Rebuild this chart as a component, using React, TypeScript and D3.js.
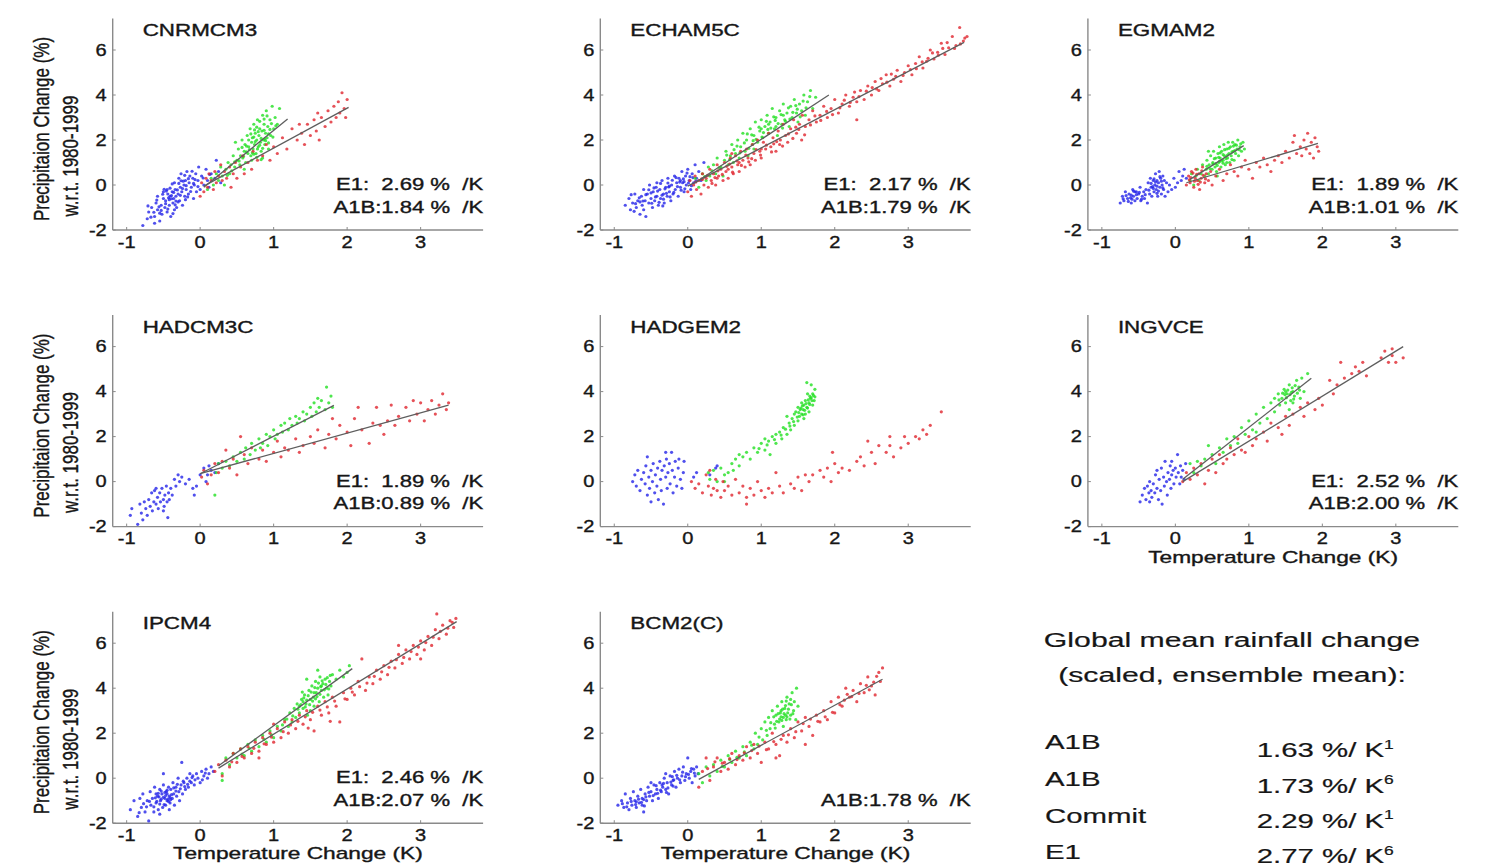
import React from 'react';
import * as d3 from 'd3';

// ---------- tick values ----------
const xTicks = [-1, 0, 1, 2, 3];
const yTicks = [-2, 0, 2, 4, 6];
const xDomain = [-1.19, 3.85];
const yDomain = [-2, 7.4];

// ---------- panel labels ----------
const modelNames = ['CNRMCM3', 'ECHAM5C', 'EGMAM2', 'HADCM3C', 'HADGEM2', 'INGVCE', 'IPCM4', 'BCM2(C)'];
const e1Rates = ['2.69', '2.17', '1.89', '1.89', null, '2.52', '2.46', null];
const a1bRates = ['1.84', '1.79', '1.01', '0.89', null, '2.00', '2.07', '1.78'];

// ---------- summary block ----------
const summaryScenarios = ['A1B', 'A1B', 'Commit', 'E1'];
const summaryRates = ['1.63', '1.73', '2.29', '2.77'];
const summaryRefs = ['1', '6', '1', '6'];

// ---------- scatter data (flat x,y pairs) ----------
const cnrmBlue = [-0.78,-1.8,-0.72,-1.5,-0.7,-1.2,-0.66,-1.0,-0.62,-1.4,-0.6,-0.8,-0.58,-1.1,-0.55,-1.6,-0.53,-0.9,-0.52,-1.3,-0.5,-0.6,-0.48,-1.0,-0.47,-0.7,-0.45,-1.2,-0.44,-0.4,-0.42,-0.9,-0.41,-0.5,-0.4,-1.4,-0.38,-0.3,-0.37,-0.8,-0.36,-0.6,-0.35,0.1,-0.34,-0.2,-0.33,-0.5,-0.32,-1.0,-0.3,-0.4,-0.29,0.3,-0.28,-0.7,-0.27,-0.1,-0.26,0.5,-0.25,-0.3,-0.24,-0.9,-0.22,0.0,-0.21,-0.5,-0.2,0.2,-0.19,-0.2,-0.18,0.6,-0.16,-0.4,-0.15,0.1,-0.14,0.4,-0.12,-0.1,-0.1,0.3,-0.09,-0.6,-0.08,0.0,-0.06,0.5,-0.05,-0.3,-0.03,0.2,-0.02,0.8,0.0,-0.2,0.02,0.4,0.05,0.0,0.08,0.7,0.1,0.2,0.12,-0.1,0.15,0.5,0.2,0.3,0.22,1.1,0.25,0.6,0.28,0.1,-0.62,-1.7,-0.45,-0.2,-0.35,-1.1,-0.58,-0.5,-0.5,-0.3,-0.42,-0.65,-0.3,-0.75,-0.2,-0.65,-0.38,0.05,-0.55,-1.25];
const cnrmBlueB = [-0.47,-0.83,-0.39,-0.61,-0.31,-0.22,-0.56,-0.97,-0.44,-1.07,-0.27,-0.46,-0.19,-0.03,-0.36,-0.33,-0.51,-0.41,-0.63,-1.21,-0.41,-0.14,-0.23,0.17,-0.33,-0.71,-0.13,-0.29,-0.07,0.24,-0.29,0.07,-0.49,-0.19,-0.59,-0.67,-0.37,-1.27,-0.17,-0.53,-0.11,0.61,-0.03,-0.07,-0.21,0.43,-0.43,-0.57,-0.67,-1.43,-0.53,-1.13,-0.34,-0.88,-0.24,-0.16,-0.09,0.07,0.04,0.31,0.13,0.47,-0.46,-0.27,-0.71,-0.93,-0.26,0.19,-0.16,0.28,-0.39,-0.47];
const cnrmGreen = [0.1,-0.2,0.15,0.3,0.18,0.0,0.22,0.5,0.25,0.2,0.28,0.8,0.3,0.4,0.33,0.0,0.35,0.7,0.38,1.0,0.4,0.5,0.42,0.9,0.45,1.3,0.47,0.8,0.5,1.1,0.52,1.6,0.54,0.9,0.55,1.3,0.57,2.0,0.58,1.2,0.6,1.5,0.61,1.8,0.62,1.0,0.64,2.2,0.65,1.4,0.66,1.7,0.68,2.5,0.69,1.3,0.7,1.9,0.71,2.1,0.72,1.6,0.73,2.7,0.74,1.8,0.75,2.3,0.76,1.4,0.77,2.0,0.78,2.9,0.79,1.7,0.8,2.2,0.81,2.5,0.82,1.9,0.83,1.5,0.84,2.4,0.85,3.1,0.86,2.0,0.87,2.7,0.88,1.8,0.89,2.3,0.9,3.3,0.91,2.1,0.92,2.6,0.93,1.6,0.95,2.9,0.96,2.2,0.98,3.5,1.0,2.5,1.02,3.0,1.05,2.7,1.08,3.4,0.6,0.7,0.48,1.9,0.85,1.2,0.7,1.1,0.78,1.6,0.88,2.05,0.74,2.45,0.66,2.0];
const cnrmGreenB = [0.67,1.57,0.73,2.13,0.81,1.77,0.87,2.43,0.77,2.57,0.93,2.27,0.71,1.43,0.63,1.73,0.83,2.07,0.89,1.97,0.79,2.37,0.97,2.73,0.69,2.27,0.59,1.27,0.53,1.07,0.91,3.07,0.75,1.93,0.85,1.63,0.95,2.47,0.73,1.37,0.99,2.13,1.03,2.63,0.87,2.93,0.63,1.47,0.57,1.67,0.81,2.83,0.77,1.23,0.93,1.87,0.43,0.63,0.37,0.43,0.47,1.03,0.83,1.13];
const cnrmRed = [0.0,-0.5,0.02,0.1,0.05,-0.3,0.08,0.3,0.1,-0.1,0.12,0.5,0.15,0.2,0.18,-0.2,0.2,0.6,0.22,0.1,0.25,0.4,0.28,0.9,0.3,0.2,0.33,0.6,0.36,0.3,0.4,0.8,0.42,-0.1,0.45,0.5,0.48,1.0,0.5,0.3,0.55,0.8,0.58,1.3,0.6,0.5,0.65,1.0,0.7,0.7,0.72,1.5,0.78,1.1,0.85,1.3,0.9,1.8,0.95,1.1,1.0,1.7,1.05,1.4,1.12,2.1,1.18,1.6,1.25,2.5,1.32,2.0,1.38,2.3,1.42,1.8,1.46,2.7,1.5,2.2,1.55,2.9,1.58,2.4,1.62,2.0,1.65,3.0,1.7,2.6,1.74,3.3,1.78,2.8,1.82,3.5,1.85,3.0,1.88,3.7,1.9,3.2,1.93,4.1,1.96,3.4,1.98,3.0,2.0,3.8,1.6,3.2,1.35,2.7];

const echamBlue = [-0.85,-0.9,-0.8,-0.6,-0.78,-1.1,-0.75,-0.8,-0.72,-0.4,-0.7,-1.0,-0.68,-0.7,-0.65,-1.3,-0.63,-0.5,-0.62,-0.9,-0.6,-0.2,-0.58,-0.7,-0.57,-1.4,-0.55,-0.4,-0.53,-0.8,-0.52,0.0,-0.5,-0.6,-0.48,-1.0,-0.47,-0.3,-0.45,-0.7,-0.43,-0.1,-0.42,-0.5,-0.4,-0.9,-0.38,-0.2,-0.37,-0.6,-0.35,0.2,-0.33,-0.4,-0.32,-0.8,-0.3,-0.1,-0.28,-0.5,-0.27,0.3,-0.25,-0.3,-0.23,-0.7,-0.22,0.0,-0.2,-0.4,-0.18,0.4,-0.17,-0.2,-0.15,0.1,-0.13,-0.5,-0.12,0.3,-0.1,-0.1,-0.08,0.6,-0.07,0.1,-0.05,-0.3,-0.03,0.4,-0.02,0.0,0.0,0.7,0.02,0.2,0.04,-0.2,0.06,0.5,0.08,0.1,0.1,0.9,0.12,0.3,0.15,0.6,0.18,0.2,0.22,1.0,-0.6,-1.1,-0.42,0.1,-0.5,-0.35,-0.35,-0.45,-0.25,-0.05,-0.1,0.2,-0.05,0.15,-0.65,-0.75];
const echamBlueB = [-0.57,-0.43,-0.49,-0.81,-0.41,-0.27,-0.33,-0.63,-0.26,-0.09,-0.19,-0.33,-0.11,0.13,-0.04,-0.17,0.03,0.37,-0.66,-0.57,-0.71,-0.83,-0.44,-0.53,-0.37,0.07,-0.29,-0.37,-0.21,0.21,-0.14,-0.07,-0.06,0.27,0.01,0.09,0.07,0.33,-0.53,-0.21,-0.61,-0.71,-0.39,-0.77,-0.31,-0.17,-0.24,-0.53,-0.16,0.33,-0.09,-0.23,-0.01,0.53,0.05,-0.03,0.11,0.17,-0.77,-0.43,-0.46,-0.13,-0.34,-0.93,-0.27,0.09,-0.73,-1.17];
const echamGreen = [0.1,0.3,0.15,-0.1,0.2,0.5,0.25,0.2,0.28,0.8,0.3,0.4,0.35,0.9,0.38,0.5,0.4,1.2,0.45,0.8,0.48,0.4,0.5,1.1,0.52,1.5,0.55,0.9,0.58,1.3,0.6,1.8,0.62,1.0,0.65,1.4,0.68,2.0,0.7,1.2,0.72,1.7,0.75,2.3,0.78,1.5,0.8,2.0,0.82,1.3,0.85,2.5,0.88,1.8,0.9,2.2,0.92,2.8,0.95,1.9,0.98,2.4,1.0,2.9,1.02,2.1,1.05,2.6,1.08,3.1,1.1,2.3,1.12,2.8,1.15,3.4,1.18,2.5,1.2,3.0,1.22,2.2,1.25,3.3,1.28,2.7,1.3,3.6,1.32,2.9,1.35,3.2,1.38,2.6,1.4,3.5,1.42,3.0,1.45,3.8,1.48,3.2,1.5,2.8,1.52,3.6,1.55,3.3,1.58,4.0,1.6,3.1,1.63,3.7,1.67,4.2,1.7,3.4,1.74,3.9,1.0,2.5,1.1,2.7,1.2,2.6,0.9,1.6,1.3,3.1];
const echamGreenB = [0.43,0.77,0.57,1.13,0.63,1.57,0.71,1.43,0.77,1.87,0.83,1.63,0.87,2.23,0.93,2.03,0.97,2.57,1.03,2.33,1.07,2.83,1.13,2.53,1.17,3.03,1.23,2.73,1.27,3.13,1.33,2.83,1.37,3.43,1.43,3.23,1.47,3.53,1.53,3.03,1.57,3.73,1.61,3.43,1.66,3.93,0.53,1.33,0.67,1.73,0.81,2.27,0.89,1.97,1.01,2.13,1.09,2.47,1.19,2.87,1.29,2.53,1.39,2.93,1.49,3.37,0.33,0.63,0.23,0.37];
const echamRed = [0.0,-0.3,0.03,0.2,0.05,-0.5,0.08,0.0,0.1,0.4,0.12,-0.2,0.15,0.2,0.18,-0.4,0.2,0.5,0.22,0.0,0.25,0.3,0.28,-0.1,0.3,0.7,0.32,0.2,0.35,0.5,0.38,0.0,0.4,0.9,0.42,0.4,0.45,0.7,0.48,0.2,0.5,1.0,0.52,0.6,0.55,0.3,0.58,1.2,0.6,0.8,0.62,0.5,0.65,1.3,0.68,0.9,0.7,0.6,0.72,1.5,0.75,1.1,0.78,0.8,0.8,1.6,0.82,1.2,0.85,0.9,0.88,1.8,0.9,1.4,0.92,1.1,0.95,2.0,0.98,1.5,1.0,1.2,1.03,1.9,1.06,1.6,1.1,2.3,1.13,1.7,1.16,2.1,1.2,1.5,1.23,2.4,1.26,2.0,1.3,2.7,1.33,2.2,1.36,1.9,1.4,2.5,1.44,2.9,1.48,2.3,1.52,2.7,1.56,3.1,1.6,2.6,1.65,2.9,1.7,3.3,1.75,2.8,1.8,3.1,1.85,3.5,1.9,3.0,1.95,3.4,2.0,3.8,2.05,3.2,2.1,3.6,2.15,4.0,2.2,3.5,2.25,3.9,2.3,3.7,2.35,4.2,2.4,3.8,2.45,4.4,2.5,4.0,2.55,4.6,2.6,4.2,2.65,4.5,2.7,4.9,2.75,4.4,2.8,4.7,2.85,5.1,2.9,4.6,2.95,5.0,3.0,5.3,3.05,4.9,3.1,5.4,3.15,5.7,3.2,5.2,3.25,5.5,3.3,6.0,3.35,5.6,3.4,5.9,3.45,6.3,3.5,5.8,3.55,6.1,3.6,6.6,3.65,6.2,3.7,7.0,3.75,6.4,3.8,6.6,2.3,2.9,1.55,2.0,0.6,1.4,0.4,0.3,0.7,1.0,1.0,1.6,1.25,1.8,0.2,0.25,0.55,0.7];
const echamRedB = [0.11,0.13,0.19,0.27,0.27,0.43,0.33,0.07,0.41,0.63,0.47,0.47,0.53,0.83,0.61,0.57,0.67,1.07,0.73,0.87,0.79,1.33,0.87,1.17,0.93,1.57,0.99,1.33,1.07,1.77,1.14,1.47,1.21,1.93,1.29,1.73,1.37,2.27,1.43,2.07,1.51,2.47,1.59,2.23,1.67,2.67,1.73,3.07,1.81,2.87,1.89,3.27,1.97,3.13,2.07,3.43,2.13,3.77,2.21,3.67,2.27,4.13,2.33,3.93,2.43,4.17,2.51,4.33,2.57,4.27,2.63,4.73,2.71,4.57,2.77,4.93,2.83,4.83,2.93,4.87,3.03,5.13,3.11,5.17,3.19,5.47,3.27,5.63,3.33,5.87,3.41,5.77,3.47,6.07,3.53,6.33,3.63,6.07,3.71,6.27,3.77,6.53,0.37,0.33,0.57,0.93,0.83,1.03,1.17,1.83,1.47,2.57];

const egmamBlue = [-0.75,-0.8,-0.72,-0.5,-0.7,-0.7,-0.68,-0.3,-0.65,-0.6,-0.63,-0.4,-0.6,-0.8,-0.58,-0.2,-0.57,-0.5,-0.55,-0.7,-0.53,-0.3,-0.52,-0.6,-0.5,-0.4,-0.48,-0.1,-0.47,-0.7,-0.45,-0.5,-0.43,-0.3,-0.42,-0.6,-0.4,-0.2,-0.38,-0.8,-0.37,0.1,-0.35,-0.4,-0.34,0.3,-0.33,-0.1,-0.32,-0.5,-0.3,0.2,-0.29,-0.3,-0.28,0.0,-0.27,0.5,-0.26,-0.2,-0.25,0.2,-0.24,-0.5,-0.23,0.1,-0.22,0.6,-0.21,-0.1,-0.2,0.3,-0.19,-0.4,-0.18,0.0,-0.17,0.4,-0.16,-0.2,-0.15,0.2,-0.14,-0.5,-0.12,0.1,-0.1,-0.3,-0.08,0.0,-0.05,-0.2,-0.02,0.3,0.0,-0.1,0.03,0.1,0.05,0.6,0.08,0.2,0.1,0.4,0.12,0.7,0.15,0.3,-0.6,-0.45,-0.55,-0.3,-0.3,-0.15,-0.25,-0.05];
const egmamBlueB = [-0.61,-0.57,-0.53,-0.43,-0.46,-0.63,-0.67,-0.47,-0.57,-0.27,-0.49,-0.33,-0.31,-0.07,-0.27,0.13,-0.23,-0.27,-0.19,0.17,-0.21,0.37,-0.29,0.27,-0.33,0.07,-0.17,-0.13,-0.25,-0.37,-0.36,-0.23,-0.41,-0.43,-0.64,-0.73,-0.71,-0.61,-0.59,-0.63];
const egmamGreen = [0.2,0.2,0.22,0.5,0.25,0.0,0.28,0.4,0.3,0.7,0.32,0.2,0.35,0.5,0.37,0.9,0.4,0.4,0.42,0.7,0.43,1.1,0.45,0.5,0.46,0.9,0.48,1.3,0.5,0.7,0.51,1.0,0.52,1.5,0.54,0.8,0.55,1.2,0.56,0.6,0.58,1.4,0.59,1.0,0.6,1.7,0.61,1.2,0.62,0.8,0.63,1.5,0.65,1.1,0.66,1.8,0.67,1.3,0.68,0.9,0.7,1.6,0.71,1.2,0.72,1.9,0.73,1.4,0.74,1.0,0.75,1.7,0.76,1.3,0.78,1.9,0.79,1.5,0.8,1.1,0.81,1.8,0.82,1.4,0.84,1.6,0.85,2.0,0.86,1.3,0.88,1.7,0.9,1.5,0.92,1.9,0.94,1.6,0.57,0.4,0.45,1.5,0.6,1.05,0.65,1.35,0.7,1.0,0.55,0.95];
const egmamGreenB = [0.47,0.73,0.53,1.17,0.57,0.87,0.61,1.43,0.63,1.07,0.67,1.57,0.69,1.17,0.73,1.63,0.77,1.47,0.81,1.53,0.83,1.77,0.87,1.57,0.59,1.23,0.51,0.93,0.43,0.83,0.71,1.33,0.77,1.13,0.65,0.97,0.79,1.73,0.89,1.83];
const egmamRed = [0.15,0.0,0.18,0.4,0.2,0.1,0.22,0.6,0.25,-0.1,0.27,0.3,0.28,0.7,0.3,0.2,0.32,0.5,0.33,-0.2,0.35,0.3,0.37,0.8,0.4,0.1,0.42,0.5,0.45,0.2,0.48,0.6,0.5,0.0,0.55,0.4,0.6,0.7,0.65,0.2,0.7,0.5,0.75,0.9,0.8,0.6,0.85,0.4,0.9,0.8,0.95,1.1,1.0,0.7,1.05,0.3,1.1,1.0,1.15,0.8,1.2,1.2,1.25,0.9,1.3,0.6,1.35,1.1,1.4,1.3,1.45,1.0,1.5,1.5,1.55,1.2,1.6,1.9,1.62,2.2,1.65,1.4,1.7,1.7,1.72,1.3,1.75,2.0,1.78,1.6,1.8,2.3,1.83,1.4,1.85,1.9,1.88,1.2,1.9,2.1,1.93,1.7,1.95,1.5];
const egmamRedB = [0.21,0.33,0.26,0.17,0.29,0.47,0.34,0.13,0.38,0.43,0.24,0.53,0.31,0.03,0.41,0.27,0.19,0.23,0.36,0.63];

const hadcmBlue = [-0.95,-1.5,-0.93,-1.2,-0.85,-1.9,-0.82,-1.0,-0.8,-1.4,-0.78,-1.7,-0.76,-0.9,-0.74,-1.2,-0.72,-1.5,-0.7,-0.8,-0.68,-1.1,-0.66,-0.5,-0.65,-1.3,-0.63,-0.9,-0.62,-0.4,-0.6,-1.0,-0.58,-0.7,-0.57,-1.2,-0.55,-0.5,-0.54,-0.9,-0.52,-0.3,-0.5,-0.8,-0.49,-1.1,-0.48,-0.6,-0.46,-0.2,-0.45,-0.9,-0.44,-1.6,-0.43,-0.5,-0.42,-0.8,-0.4,-0.3,-0.38,-0.6,-0.35,0.1,-0.33,-0.2,-0.3,0.3,-0.28,0.0,-0.25,0.2,-0.2,-0.1,-0.15,0.1,-0.1,-0.3,-0.08,-0.6,-0.05,-0.2,0.0,0.3,0.05,0.6,0.08,0.0,0.1,0.3,0.12,0.7,0.15,0.5,0.2,0.4,0.25,0.8,-0.6,-0.3,-0.5,-1.3];
const hadcmGreen = [0.2,-0.6,0.22,0.4,0.25,0.8,0.3,0.6,0.35,0.9,0.4,0.7,0.45,1.1,0.5,0.9,0.55,1.3,0.6,1.0,0.62,1.5,0.68,1.2,0.7,1.7,0.75,1.4,0.8,1.9,0.82,1.5,0.85,1.7,0.9,2.1,0.92,1.6,0.95,2.0,1.0,2.3,1.02,1.9,1.05,2.1,1.1,2.5,1.12,2.2,1.15,2.6,1.2,2.3,1.22,2.8,1.25,2.5,1.3,2.9,1.32,2.6,1.35,2.8,1.4,3.1,1.42,2.7,1.45,3.0,1.5,3.3,1.52,2.9,1.55,3.5,1.58,3.1,1.6,3.7,1.62,3.3,1.65,3.6,1.7,3.2,1.72,4.2,1.75,3.5,1.78,3.8,1.8,3.3];
const hadcmRed = [0.02,0.2,0.05,0.5,0.1,-0.1,0.15,0.3,0.2,0.8,0.25,0.4,0.3,0.9,0.35,1.4,0.4,0.6,0.45,1.0,0.5,0.3,0.55,2.0,0.6,1.2,0.65,0.8,0.7,1.5,0.8,1.0,0.85,1.4,0.9,0.9,1.0,1.3,1.05,1.8,1.1,1.1,1.15,1.5,1.2,1.4,1.3,1.9,1.35,1.3,1.4,1.6,1.5,2.0,1.55,1.7,1.6,2.3,1.7,1.5,1.75,2.1,1.8,2.8,1.85,1.9,1.9,2.5,2.0,2.2,2.05,1.6,2.1,2.8,2.15,3.3,2.2,2.3,2.3,1.7,2.35,2.6,2.4,3.3,2.45,2.5,2.5,2.1,2.55,2.7,2.6,3.4,2.65,2.5,2.7,2.9,2.8,3.3,2.85,2.7,2.9,3.6,2.95,3.0,3.0,3.5,3.05,2.7,3.1,3.2,3.15,3.6,3.2,3.0,3.25,3.4,3.3,3.9,3.35,3.2,3.38,3.5];

const hadgemBlue = [-0.75,0.0,-0.72,0.3,-0.7,-0.2,-0.68,0.5,-0.65,-0.4,-0.63,0.1,-0.6,0.4,-0.58,-0.1,-0.57,0.7,-0.55,-0.6,-0.55,1.1,-0.53,0.2,-0.52,-0.3,-0.5,0.5,-0.48,0.0,-0.47,0.8,-0.45,-0.5,-0.44,0.3,-0.42,-0.2,-0.41,0.6,-0.4,-0.8,-0.38,0.9,-0.37,0.1,-0.36,-0.4,-0.35,0.5,-0.33,-1.0,-0.32,0.7,-0.3,0.2,-0.29,1.0,-0.28,-0.3,-0.27,0.4,-0.25,0.8,-0.24,-0.1,-0.22,1.3,-0.21,0.5,-0.2,-0.5,-0.18,0.2,-0.17,0.9,-0.15,-0.2,-0.13,0.6,-0.12,1.0,-0.1,0.1,-0.08,-0.3,-0.06,0.4,-0.05,0.9,-0.3,1.3,-0.5,-0.9,0.08,0.2,0.12,0.4,0.3,0.3,0.4,0.7,0.38,0.6];
const hadgemGreen = [0.28,0.4,0.3,0.1,0.35,0.5,0.4,0.0,0.45,0.6,0.5,0.3,0.5,0.0,0.6,0.8,0.65,1.0,0.7,0.7,0.75,1.1,0.8,1.3,0.85,1.0,0.9,1.5,0.95,1.3,1.0,1.7,1.05,1.4,1.1,1.8,1.12,1.2,1.15,2.0,1.2,1.7,1.25,2.2,1.28,1.9,1.3,2.4,1.35,2.1,1.38,2.6,1.4,2.3,1.42,2.8,1.45,2.5,1.47,3.1,1.5,2.7,1.5,3.3,1.52,2.9,1.55,3.0,1.55,3.5,1.57,3.2,1.58,2.8,1.6,3.6,1.6,3.0,1.62,3.3,1.63,3.9,1.65,3.5,1.65,3.1,1.67,3.7,1.68,4.3,1.7,3.4,1.7,3.9,1.72,3.6,1.73,4.1,1.62,4.4,1.45,3.0,1.35,2.9,1.2,2.1,1.05,1.9,0.7,1.2,0.62,0.5,0.55,0.4,1.58,3.4,1.66,3.8,1.53,3.2,1.69,3.6];
const hadgemGreenB = [1.51,3.07,1.54,3.27,1.56,3.37,1.59,3.17,1.61,3.47,1.64,3.63,1.66,3.43,1.68,3.73,1.71,3.83,1.73,3.77,1.63,3.27,1.57,2.97,1.49,2.87,1.44,2.67,1.39,2.47,1.33,2.33,1.27,2.07,1.18,1.87,1.08,1.63,0.97,1.47];
const hadgemRed = [0.05,0.0,0.1,-0.3,0.15,-0.1,0.2,-0.5,0.25,0.3,0.28,-0.2,0.3,0.5,0.32,-0.6,0.35,-0.3,0.38,0.1,0.4,-0.4,0.45,-0.7,0.48,0.0,0.5,-0.4,0.55,-0.2,0.6,-0.6,0.65,0.1,0.7,-0.5,0.75,-0.2,0.8,-0.7,0.85,-0.3,0.9,-0.6,0.95,0.0,1.0,-0.4,1.05,-0.7,1.1,-0.3,1.15,-0.5,1.2,0.4,1.25,-0.2,1.3,-0.5,1.4,-0.1,1.45,-0.3,1.5,0.2,1.55,-0.4,1.6,0.3,1.65,0.0,1.7,0.3,1.8,0.5,1.85,0.2,1.9,0.6,1.95,0.0,2.0,0.8,2.05,0.4,2.1,0.6,2.2,0.5,2.3,0.9,2.35,1.1,2.4,0.7,2.5,1.3,2.55,0.8,2.6,1.6,2.7,1.3,2.75,1.6,2.8,1.1,2.9,1.5,2.95,2.0,3.0,1.7,3.1,2.0,3.15,1.9,3.2,2.3,3.25,2.1,3.3,2.5,3.45,3.1,1.97,1.3,2.45,1.8,2.75,2.0,0.8,-1.0];

const ingvBlue = [-0.48,-0.9,-0.45,-0.6,-0.42,-0.3,-0.4,-0.8,-0.38,-0.2,-0.36,-0.5,-0.35,0.0,-0.33,-0.4,-0.32,-0.7,-0.3,-0.1,-0.28,-0.5,-0.27,0.3,-0.25,-0.3,-0.23,-0.8,-0.22,0.1,-0.2,-0.4,-0.19,0.6,-0.18,-1.0,-0.16,0.2,-0.15,-0.2,-0.14,0.9,-0.12,0.0,-0.11,-0.6,-0.1,0.4,-0.08,0.1,-0.07,0.7,-0.06,-0.3,-0.05,0.3,-0.03,0.5,-0.02,-0.1,0.0,0.6,0.01,0.2,0.03,1.2,0.04,0.4,0.06,-0.1,0.07,0.7,0.08,0.2,0.1,0.5,0.12,0.1,0.14,0.8,-0.25,0.5,-0.35,-0.9,-0.05,0.9];
const ingvGreen = [0.2,0.8,0.25,0.4,0.3,0.9,0.35,0.7,0.4,1.0,0.45,1.6,0.5,1.2,0.55,0.8,0.6,1.5,0.65,1.3,0.7,1.9,0.75,1.6,0.8,2.0,0.85,1.7,0.9,2.4,0.95,2.1,1.0,2.7,1.05,2.3,1.1,3.0,1.15,2.6,1.2,3.3,1.25,2.8,1.3,3.5,1.35,3.1,1.4,3.9,1.42,3.4,1.45,3.7,1.48,4.1,1.5,3.5,1.52,3.9,1.55,4.3,1.57,3.6,1.6,4.0,1.62,3.8,1.65,4.5,1.68,4.2,1.7,3.7,1.72,4.6,1.75,4.0,1.8,4.8,1.55,3.2,1.35,3.7,1.1,2.2,1.5,4.0,1.6,3.5];
const ingvGreenB = [1.41,3.63,1.46,3.93,1.51,3.73,1.53,4.07,1.56,3.87,1.59,4.17,1.61,3.67,1.63,4.27,1.66,3.93,1.69,4.07,1.49,3.87,1.58,3.97];
const ingvRed = [0.1,0.0,0.15,0.4,0.2,0.1,0.25,0.6,0.3,0.3,0.35,0.8,0.4,-0.1,0.45,0.5,0.5,1.0,0.55,0.4,0.6,1.2,0.65,0.8,0.7,1.0,0.75,1.5,0.8,1.2,0.85,1.9,0.9,1.4,0.95,1.3,1.0,2.0,1.05,1.6,1.1,1.9,1.2,2.2,1.25,1.8,1.3,2.6,1.4,2.4,1.45,2.1,1.5,2.9,1.55,2.5,1.6,3.0,1.7,3.3,1.75,2.9,1.8,3.5,1.9,3.2,1.95,3.7,2.0,3.4,2.1,4.5,2.15,3.9,2.2,4.3,2.25,5.3,2.3,4.6,2.4,4.8,2.45,5.1,2.5,4.9,2.55,5.3,2.6,4.7,2.8,5.5,2.85,5.8,2.9,5.3,2.95,5.6,3.0,5.3,3.1,5.5,2.95,5.9];

const ipcmBlue = [-0.95,-1.4,-0.9,-1.0,-0.85,-1.7,-0.82,-0.9,-0.8,-1.3,-0.78,-0.7,-0.75,-1.5,-0.72,-1.0,-0.7,-1.9,-0.68,-0.6,-0.67,-1.2,-0.65,-0.9,-0.63,-1.5,-0.62,-0.4,-0.6,-1.1,-0.58,-0.8,-0.57,-1.4,-0.55,-0.5,-0.54,-1.0,-0.52,-0.7,-0.51,-1.3,-0.5,-0.3,-0.48,-0.9,-0.47,-1.2,-0.46,-0.6,-0.45,-1.0,-0.43,-0.4,-0.42,-0.8,-0.41,-1.1,-0.4,-0.5,-0.38,-0.9,-0.37,-0.2,-0.36,-0.7,-0.35,-1.2,-0.33,-0.4,-0.32,-0.8,-0.3,0.0,-0.29,-0.6,-0.28,-1.0,-0.26,-0.3,-0.25,0.7,-0.24,-0.7,-0.22,-0.2,-0.2,-0.5,-0.18,0.0,-0.16,-0.4,-0.14,0.2,-0.12,-0.2,-0.1,0.1,-0.08,-0.3,-0.05,0.2,-0.03,0.0,0.0,-0.2,0.02,0.3,0.05,0.1,0.08,0.4,0.1,0.0,0.12,0.2,0.15,0.5,0.18,0.3,-0.55,-1.6,-0.42,-1.4,-0.5,0.2,-0.6,-0.7,-0.5,-0.85,-0.45,-0.7,-0.55,-1.15,-0.4,-0.95];
const ipcmBlueB = [-0.53,-0.93,-0.47,-0.77,-0.43,-1.03,-0.57,-0.67,-0.61,-0.87,-0.49,-1.17,-0.39,-0.73,-0.33,-0.57,-0.63,-1.27,-0.69,-1.03,-0.73,-1.27,-0.45,-0.53,-0.41,-0.87,-0.36,-0.43,-0.27,-0.47,-0.21,-0.37,-0.14,-0.13,-0.07,-0.07,-0.53,-0.57,-0.59,-1.03,-0.44,-0.93,-0.48,-0.63,-0.56,-0.83,-0.77,-1.13,-0.83,-1.53,-0.31,-0.27,-0.23,-0.13,-0.17,-0.27,-0.11,0.03,0.03,-0.07,0.07,0.23];
const ipcmGreen = [0.3,0.2,0.35,0.9,0.4,0.6,0.45,1.1,0.5,0.9,0.55,1.3,0.6,1.0,0.65,1.5,0.7,1.2,0.75,1.7,0.8,1.4,0.85,1.9,0.9,1.6,0.95,2.1,1.0,1.8,1.05,2.3,1.1,2.1,1.15,2.6,1.2,2.3,1.22,2.9,1.25,2.5,1.28,3.1,1.3,2.7,1.32,3.3,1.35,2.9,1.38,3.5,1.4,3.1,1.42,3.7,1.44,3.3,1.46,2.8,1.48,3.9,1.5,3.5,1.52,4.1,1.54,3.6,1.55,3.2,1.57,4.3,1.58,3.8,1.6,4.0,1.62,3.4,1.63,4.5,1.65,3.9,1.67,4.2,1.68,3.6,1.7,4.4,1.72,4.0,1.74,3.7,1.76,4.3,1.78,4.1,1.8,4.6,1.85,4.4,1.9,4.8,1.95,4.5,2.0,4.7,2.03,5.0,1.45,4.4,1.6,4.8,0.3,-0.1,1.5,3.0,1.4,3.4,1.55,3.8,1.65,4.1,1.35,3.2];
const ipcmGreenB = [1.33,3.07,1.37,3.27,1.41,3.57,1.43,3.17,1.47,3.67,1.49,3.27,1.51,3.83,1.53,3.43,1.56,4.03,1.59,3.63,1.61,4.23,1.63,3.73,1.66,4.33,1.69,3.93,1.71,4.17,1.73,4.47,1.75,3.97,1.77,4.57,1.39,3.83,1.45,3.47,1.57,3.53,1.64,4.07,1.26,2.77,1.18,2.63,1.12,2.37,0.97,1.93,0.87,1.73,0.67,1.33,0.57,1.07];
const ipcmRed = [0.2,0.3,0.25,0.6,0.3,0.1,0.35,0.8,0.4,0.5,0.45,1.1,0.5,0.7,0.55,1.3,0.6,0.9,0.65,1.4,0.7,1.1,0.75,1.6,0.8,1.2,0.85,1.8,0.9,1.5,0.95,2.0,1.0,1.6,1.05,2.2,1.1,1.8,1.15,2.5,1.2,2.0,1.25,2.6,1.3,2.2,1.35,2.8,1.4,2.4,1.45,3.0,1.5,2.6,1.55,2.1,1.6,3.2,1.65,2.8,1.7,3.4,1.75,2.9,1.8,3.6,1.85,3.2,1.9,2.5,1.95,3.8,2.0,3.5,2.05,4.0,2.1,3.7,2.15,4.3,2.2,5.3,2.25,3.9,2.3,4.5,2.35,4.2,2.4,4.8,2.45,4.4,2.5,5.0,2.55,4.6,2.6,5.2,2.65,4.9,2.7,5.5,2.75,5.1,2.8,5.7,2.85,5.3,2.9,5.9,2.95,5.5,3.0,6.1,3.05,5.7,3.1,6.3,3.15,5.9,3.2,6.6,3.22,7.3,3.25,6.2,3.3,6.8,3.35,6.4,3.4,7.0,3.45,6.7,3.48,7.1,3.0,5.3,2.7,5.9,1.0,2.4,0.8,0.9];
const ipcmRedB = [0.43,0.73,0.57,0.97,0.73,1.33,0.87,1.53,0.97,1.83,1.13,2.07,1.23,2.37,1.33,2.53,1.43,2.73,1.53,2.93,1.63,3.03,1.73,3.17,1.83,3.43,1.97,3.53,2.07,3.83,2.17,4.07,2.27,4.23,2.37,4.53,2.47,4.73,2.57,4.93,2.67,5.27,2.77,5.37,2.87,5.63,2.97,5.83,3.07,6.03,3.17,6.27,3.27,6.53,3.37,6.67,3.43,6.93,1.47,2.23,1.77,2.53];

const bcmBlue = [-0.95,-1.2,-0.9,-1.0,-0.87,-1.3,-0.85,-0.7,-0.82,-1.1,-0.8,-1.4,-0.78,-0.9,-0.76,-1.2,-0.74,-0.6,-0.72,-1.0,-0.7,-1.3,-0.68,-0.8,-0.66,-1.1,-0.64,-0.5,-0.62,-0.9,-0.6,-1.5,-0.58,-0.7,-0.56,-1.0,-0.54,-0.4,-0.52,-0.8,-0.5,-0.6,-0.48,-1.0,-0.46,-0.3,-0.44,-0.7,-0.42,-0.5,-0.4,-0.9,-0.38,-0.2,-0.36,-0.6,-0.34,-0.4,-0.32,0.0,-0.3,-0.5,-0.28,-0.2,-0.26,-0.7,-0.24,0.1,-0.22,-0.3,-0.2,-0.1,-0.18,0.3,-0.16,-0.4,-0.14,0.0,-0.12,0.4,-0.1,-0.2,-0.08,0.1,-0.06,0.5,-0.04,-0.1,-0.02,0.2,0.0,0.9,0.02,0.0,0.04,0.3,0.06,-0.2,0.08,0.4,0.1,0.1,0.12,0.5,0.14,0.2,-0.62,-1.2,-0.3,0.2,-0.5,-0.2,-0.7,-1.05,-0.6,-0.95,-0.35,-0.3,-0.2,-0.35];
const bcmBlueB = [-0.77,-1.03,-0.71,-1.17,-0.67,-0.93,-0.63,-1.07,-0.57,-0.83,-0.53,-0.63,-0.47,-0.77,-0.43,-0.33,-0.37,-0.53,-0.33,-0.23,-0.27,-0.43,-0.23,-0.17,-0.19,-0.07,-0.15,0.13,-0.11,-0.07,-0.07,0.27,-0.03,0.07,0.01,0.17,0.05,0.43,0.09,0.23,-0.83,-1.27,-0.89,-1.13,-0.59,-1.23,-0.41,-0.67,-0.29,-0.63,-0.21,0.07];
const bcmGreen = [0.15,0.2,0.2,-0.2,0.25,0.5,0.3,0.1,0.35,0.6,0.4,0.3,0.45,0.8,0.5,0.5,0.55,1.0,0.6,0.7,0.65,1.2,0.7,0.9,0.75,1.4,0.8,1.0,0.85,1.6,0.9,1.3,0.92,2.0,0.95,1.5,1.0,2.2,1.02,1.7,1.05,2.5,1.08,1.9,1.1,2.7,1.12,2.2,1.15,3.0,1.18,2.4,1.2,2.8,1.22,3.2,1.24,2.5,1.26,2.9,1.28,3.4,1.3,2.7,1.32,3.1,1.34,2.6,1.35,3.6,1.36,2.9,1.38,3.3,1.4,2.8,1.42,3.8,1.44,3.0,1.45,3.4,1.47,2.6,1.48,4.0,1.5,3.2,1.3,2.3,1.4,3.5,1.33,2.8,1.27,3.0];
const bcmGreenB = [1.21,2.53,1.23,2.87,1.25,2.63,1.27,2.73,1.29,3.07,1.31,2.87,1.33,3.23,1.35,2.73,1.37,3.07,1.39,2.63,1.41,3.27,1.43,2.87,1.19,2.23,1.17,2.73,1.13,2.47,1.07,2.13,0.97,1.83,0.87,1.47,0.77,1.17,0.67,0.93,0.57,0.83,0.47,0.53,1.34,3.43,1.28,2.57];
const bcmRed = [0.2,0.3,0.25,0.9,0.3,-0.1,0.35,0.5,0.4,0.9,0.45,0.3,0.5,0.7,0.55,0.4,0.6,1.1,0.65,0.6,0.7,1.0,0.75,0.8,0.8,1.4,0.85,0.9,0.9,1.5,0.95,1.1,1.0,0.7,1.05,1.6,1.1,1.3,1.15,2.0,1.2,1.5,1.25,1.0,1.3,1.9,1.35,1.6,1.4,2.2,1.45,1.8,1.5,2.5,1.55,2.1,1.6,2.7,1.65,2.3,1.7,1.9,1.75,2.8,1.8,2.5,1.85,3.0,1.9,2.6,1.95,3.4,2.0,2.9,2.05,3.6,2.1,3.2,2.15,4.0,2.2,3.6,2.25,3.9,2.3,3.4,2.35,4.2,2.4,3.8,2.45,4.5,2.5,4.1,2.55,3.7,2.6,4.7,2.62,4.3,2.65,4.9,1.2,0.9,0.15,-0.4,1.6,1.5];
const bcmRedB = [0.27,0.43,0.37,0.73,0.47,0.67,0.57,0.87,0.67,0.83,0.77,1.13,0.87,1.23,0.97,1.43,1.07,1.27,1.17,1.63,1.27,1.73,1.37,1.93,1.47,2.07,1.57,2.43,1.67,2.63,1.77,2.53,1.87,2.73,1.97,2.93,2.07,3.27,2.17,3.73,2.23,3.63,2.33,3.77,2.43,4.13,2.53,4.27,2.57,4.53,2.47,3.93,2.13,3.47];

// ---------- fitted regression lines (endpoints) ----------
const cnrmFitE1 = [[0.05, -0.1], [1.19, 2.93]];
const cnrmFitA1B = [[0.05, -0.05], [2.02, 3.45]];
const echamFitE1 = [[0.1, 0.1], [1.92, 4.0]];
const echamFitA1B = [[0.0, -0.05], [3.76, 6.34]];
const egmamFitE1 = [[0.2, 0.25], [0.93, 1.75]];
const egmamFitA1B = [[0.15, 0.1], [1.94, 1.85]];
const hadcmFitE1 = [[0.0, 0.35], [1.82, 3.39]];
const hadcmFitA1B = [[0.0, 0.35], [3.38, 3.4]];
const ingvFitE1 = [[0.1, 0.1], [1.85, 4.59]];
const ingvFitA1B = [[0.1, 0.0], [3.1, 6.0]];
const ipcmFitE1 = [[0.25, 0.55], [2.07, 4.87]];
const ipcmFitA1B = [[0.25, 0.45], [3.49, 6.96]];
const bcmFitA1B = [[0.15, -0.05], [2.65, 4.4]];

// ---------- table built from the arrays ----------
const pairs = (a: number[]) => {
  const out: [number, number][] = [];
  for (let i = 0; i + 1 < a.length; i += 2) out.push([a[i], a[i + 1]]);
  return out;
};

const panels = [
  { blue: [...cnrmBlue, ...cnrmBlueB], green: [...cnrmGreen, ...cnrmGreenB], red: cnrmRed, fits: [cnrmFitE1, cnrmFitA1B] },
  { blue: [...echamBlue, ...echamBlueB], green: [...echamGreen, ...echamGreenB], red: [...echamRed, ...echamRedB], fits: [echamFitE1, echamFitA1B] },
  { blue: [...egmamBlue, ...egmamBlueB], green: [...egmamGreen, ...egmamGreenB], red: [...egmamRed, ...egmamRedB], fits: [egmamFitE1, egmamFitA1B] },
  { blue: hadcmBlue, green: hadcmGreen, red: hadcmRed, fits: [hadcmFitE1, hadcmFitA1B] },
  { blue: hadgemBlue, green: [...hadgemGreen, ...hadgemGreenB], red: hadgemRed, fits: [] },
  { blue: ingvBlue, green: [...ingvGreen, ...ingvGreenB], red: ingvRed, fits: [ingvFitE1, ingvFitA1B] },
  { blue: [...ipcmBlue, ...ipcmBlueB], green: [...ipcmGreen, ...ipcmGreenB], red: [...ipcmRed, ...ipcmRedB], fits: [ipcmFitE1, ipcmFitA1B] },
  { blue: [...bcmBlue, ...bcmBlueB], green: [...bcmGreen, ...bcmGreenB], red: [...bcmRed, ...bcmRedB], fits: [bcmFitA1B] },
].map((p, i) => ({ ...p, name: modelNames[i], e1: e1Rates[i], a1b: a1bRates[i], col: i % 3, row: Math.floor(i / 3) }));

const xLabelPanels = [5, 6, 7];

// ---------- style ----------
const FONT = '"Liberation Sans", Arial, Helvetica, sans-serif';
const AXIS = '#8a8a8a';
const BLUE = '#2424e8';
const GREEN = '#22e022';
const RED = '#e0262e';
const FIT = '#5e5e5e';
const INK = '#161616';
const SX = 1.4;

const LEFT0 = 112.7;
const COL_STEP = 487.6;
const TOP0 = 18.5;
const ROW_STEP = 296.6;
const PW = 370.4;
const PH = 211.5;

function T({ x, y, size, anchor = 'start', sx = SX, children, pre = false, heavy = 0.35 }: any) {
  return (
    <text
      transform={`translate(${x},${y}) scale(${sx},1)`}
      fontSize={size}
      textAnchor={anchor}
      fill={INK}
      stroke={INK}
      strokeWidth={heavy}
      style={pre ? { whiteSpace: 'pre' } : undefined}
    >
      {children}
    </text>
  );
}

function Panel({ p, idx }: any) {
  const left = LEFT0 + p.col * COL_STEP;
  const top = TOP0 + p.row * ROW_STEP;
  const x = d3.scaleLinear().domain(xDomain).range([left, left + PW]);
  const y = d3.scaleLinear().domain(yDomain).range([top + PH, top]);
  const bottom = top + PH;
  const right = left + PW;
  const line = d3.line<number[]>().x((d) => x(d[0])).y((d) => y(d[1]));

  const dots = (arr: number[], color: string) =>
    pairs(arr).map((d, i) => (
      <circle key={i} cx={x(d[0])} cy={y(d[1])} r={1.6} fill={color} fillOpacity={0.8} />
    ));

  return (
    <g>
      {/* axes */}
      <line x1={left} x2={right} y1={bottom} y2={bottom} stroke={AXIS} strokeWidth={1.4} />
      <line x1={left} x2={left} y1={top} y2={bottom} stroke={AXIS} strokeWidth={1.4} />
      {xTicks.map((t) => (
        <g key={'xt' + t}>
          <line x1={x(t)} x2={x(t)} y1={bottom} y2={bottom - 3} stroke={AXIS} strokeWidth={1} />
          <T x={x(t)} y={bottom + 17.5} size={16} anchor="middle" sx={1.25}>{String(t)}</T>
        </g>
      ))}
      {yTicks.map((t) => (
        <g key={'yt' + t}>
          <line x1={left} x2={left + 3} y1={y(t)} y2={y(t)} stroke={AXIS} strokeWidth={1} />
          <T x={left - 6} y={y(t) + 5.8} size={16} anchor="end" sx={1.25}>{String(t)}</T>
        </g>
      ))}

      {/* points */}
      <g>{dots(p.blue, BLUE)}</g>
      <g>{dots(p.green, GREEN)}</g>
      <g>{dots(p.red, RED)}</g>

      {/* fits */}
      {p.fits.map((f: number[][], i: number) => (
        <path key={'f' + i} d={line(f) || ''} fill="none" stroke={FIT} strokeWidth={1.3} />
      ))}

      {/* title */}
      <T x={left + 30} y={top + 17.5} size={16}>{p.name}</T>

      {/* rates */}
      {p.e1 && (
        <T x={right} y={bottom - 40} size={16} anchor="end" sx={1.38} pre>{`E1:  ${p.e1} %  /K`}</T>
      )}
      {p.a1b && (
        <T x={right} y={bottom - 17.5} size={16} anchor="end" sx={1.38} pre>{`A1B:${p.a1b} %  /K`}</T>
      )}

      {/* y label (first column) */}
      {p.col === 0 && (
        <g fill={INK} stroke={INK} strokeWidth={0.3}>
          <text transform={`translate(49,${top + 110.5}) scale(1.35,1) rotate(-90)`} fontSize={17} textAnchor="middle">
            Precipitaion Change (%)
          </text>
          <text transform={`translate(78,${top + 137.5}) scale(1.35,1) rotate(-90)`} fontSize={17} textAnchor="middle">
            w.r.t. 1980-1999
          </text>
        </g>
      )}

      {/* x label */}
      {xLabelPanels.includes(idx) && (
        <T x={(left + right) / 2} y={bottom + 36} size={16} anchor="middle" sx={1.42}>
          Temperature Change (K)
        </T>
      )}
    </g>
  );
}

export default function App() {
  return (
    <svg
      width={1488}
      height={868}
      viewBox="0 0 1488 868"
      style={{ position: 'absolute', left: 0, top: 0, display: 'block', background: '#fff' }}
      fontFamily={FONT}
    >
      <rect x={0} y={0} width={1488} height={868} fill="#fff" />
      {panels.map((p, i) => (
        <Panel key={p.name} p={p} idx={i} />
      ))}

      {/* summary block */}
      <T x={1232} y={646.5} size={21} anchor="middle" sx={1.44} heavy={0.2}>Global mean rainfall change</T>
      <T x={1232} y={681.5} size={21} anchor="middle" sx={1.44} heavy={0.2}>(scaled, ensemble mean):</T>
      {summaryScenarios.map((s, i) => (
        <T key={'s' + i} x={1045} y={749 + i * 36.8} size={21} sx={1.4} heavy={0.2}>{s}</T>
      ))}
      {summaryRates.map((r, i) => (
        <text
          key={'r' + i}
          transform={`translate(1256.7,${757.3 + i * 35.3}) scale(1.4,1)`}
          fontSize={21}
          fill={INK}
          stroke={INK}
          strokeWidth={0.2}
        >
          {`${r} %/ K`}
          <tspan fontSize={12.5} dy={-8.5}>{summaryRefs[i]}</tspan>
        </text>
      ))}
    </svg>
  );
}
